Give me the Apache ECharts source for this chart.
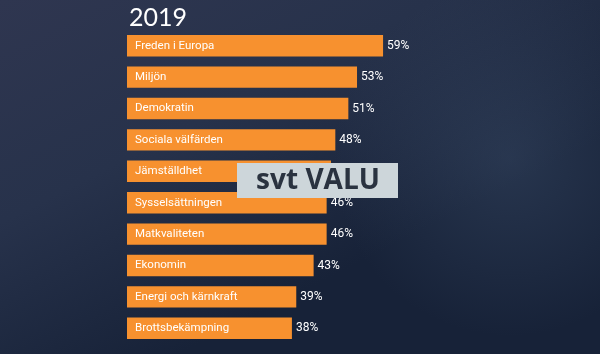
<!DOCTYPE html>
<html>
<head>
<meta charset="utf-8">
<script src="https://cdn.jsdelivr.net/npm/echarts@6/dist/echarts.min.js"></script>
<style>
  html, body { margin: 0; padding: 0; }
  #chart { width: 600px; height: 354px; }
</style>
</head>
<body>
<div id="chart"></div>
<script>
// viktigaste frågorna 2019
const categories = ['Freden i Europa', 'Miljön', 'Demokratin', 'Sociala välfärden', 'Jämställdhet',
  'Sysselsättningen', 'Matkvaliteten', 'Ekonomin', 'Energi och kärnkraft', 'Brottsbekämpning']
const values = [59, 53, 51, 48, 47, 46, 46, 43, 39, 38]

const chart = echarts.init(document.getElementById('chart'))
const font = 'Roboto, sans-serif'

chart.setOption({
  backgroundColor: new echarts.graphic.LinearGradient(0, 0, 0.3, 1, [
    { offset: 0, color: '#2f3650' },
    { offset: 0.5, color: '#27324b' },
    { offset: 1, color: '#172238' }
  ]),
  animation: false,
  title: {
    text: '2019',
    left: 124,
    top: 0,
    textStyle: { color: '#fff', fontSize: 25, fontWeight: 'normal', fontFamily: 'Lato, sans-serif' }
  },
  grid: { left: 127, right: 39, top: 30, bottom: 10 },
  xAxis: { type: 'value', min: 0, max: 100, show: false },
  yAxis: {
    type: 'category',
    data: categories,
    inverse: true,
    show: false
  },
  series: [
    {
      type: 'bar',
      data: values,
      barCategoryGap: '32%',
      itemStyle: { color: '#f7912f' },
      label: {
        show: true,
        position: 'right',
        distance: 4,
        color: '#fff',
        fontSize: 12,
        fontFamily: font,
        formatter: '{c}%'
      }
    },
    {
      type: 'bar',
      data: values,
      barGap: '-100%',
      barCategoryGap: '32%',
      itemStyle: { color: 'transparent' },
      label: {
        show: true,
        position: 'insideLeft',
        distance: 8,
        color: '#fff',
        fontSize: 11.5,
        fontFamily: font,
        formatter: '{b}'
      }
    }
  ],
  graphic: [
    {
      type: 'rect',
      z: -10,
      silent: true,
      shape: { x: 0, y: 0, width: 600, height: 354 },
      style: {
        fill: new echarts.graphic.RadialGradient(0.85, 0.45, 0.5, [
          { offset: 0, color: 'rgba(70,90,120,0.35)' },
          { offset: 1, color: 'rgba(70,90,120,0)' }
        ])
      }
    },
    {
      type: 'rect',
      z: 100,
      shape: { x: 237, y: 163, width: 161, height: 35 },
      style: { fill: '#cdd6da' }
    },
    {
      type: 'text',
      z: 101,
      x: 318,
      y: 181,
      style: {
        text: 'svt VALU',
        fill: '#2a3340',
        font: 'bold 28px "Open Sans", sans-serif',
        align: 'center',
        verticalAlign: 'middle'
      }
    }
  ]
})
</script>
</body>
</html>
